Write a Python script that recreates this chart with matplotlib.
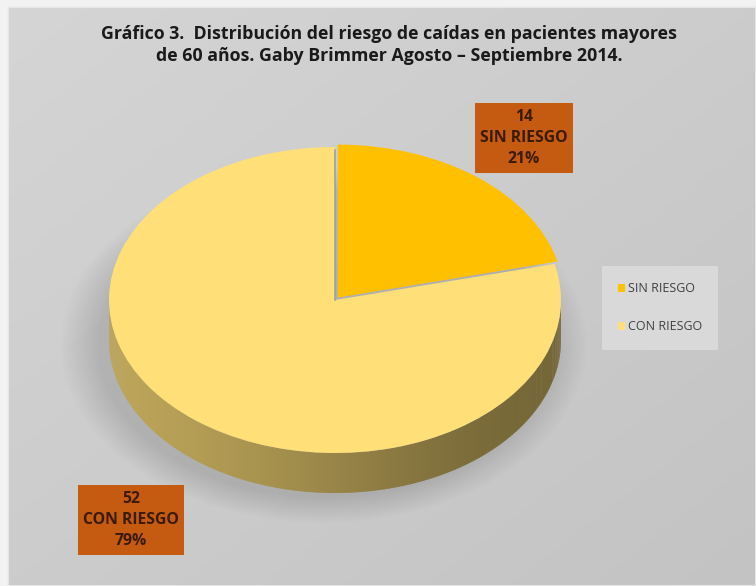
import numpy as np
import matplotlib
matplotlib.use("Agg")
from matplotlib import pyplot as plt
from matplotlib.patches import Polygon, Ellipse, Rectangle
import matplotlib.colors as mcolors

# data
categories = ['SIN RIESGO', 'CON RIESGO']
counts = [14, 52]
percents = [21, 79]
colors = ['#FFC000', '#FFDF78']

title = ('Gráfico 3.  Distribución del riesgo de caídas en pacientes mayores\n'
         'de 60 años. Gaby Brimmer Agosto – Septiembre 2014.')

W, H = 756, 586
fig = plt.figure(figsize=(W / 100, H / 100), dpi=100)
fig.patch.set_facecolor('#f2f2f2')

# background with a soft gradient
bg = fig.add_axes([0, 0, 1, 1])
yy, xx = np.mgrid[0:1:200j, 0:1:200j]
grad = 0.835 - 0.07 * (0.5 * xx + 0.5 * yy)
bg.imshow(np.dstack([grad, grad, grad]), extent=[8, W, H, 7], aspect='auto')
bg.add_patch(Rectangle((8, 7), W - 8, H - 7, fill=False, ec='#ececec', lw=1.2))
bg.set_xlim(0, W)
bg.set_ylim(H, 0)
bg.axis('off')

fig.text(389 / W, 1 - 45 / H, title, ha='center', va='center', fontsize=12.8,
         fontweight='bold', family='Open Sans', color='#1a1a1a', linespacing=1.3)

# pie geometry in pixels
cx, cy, rx, ry, depth = 335, 300, 226, 153, 40
left, top = cx - rx, cy - ry
bottom = cy + ry + depth
ax = fig.add_axes([left / W, 1 - bottom / H, 2 * rx / W, (bottom - top) / H])
dd = depth / ry

# shadow
for k in range(14):
    ax.add_patch(Ellipse((-0.05, -dd - 0.03), 2.0 + 0.025 * k, 2.0 + 0.025 * k,
                         fc='#6e6e6e', ec='none', alpha=0.02, zorder=0,
                         clip_on=False))

# side of the pie
fracs = np.array(counts) / sum(counts)
ts = np.linspace(180, 360, 240)
for t0, t1 in zip(ts[:-1], ts[1:]):
    tm = (t0 + t1) / 2
    ang = (90 - tm) % 360
    idx = np.searchsorted(np.cumsum(fracs) * 360, ang)
    idx = min(idx, len(colors) - 1)
    f = 0.60 + 0.14 * np.cos(np.radians(tm - 190)) - 0.05 * np.exp(-((tm - 300) / 40) ** 2)
    base = np.array(mcolors.to_rgb(colors[idx]))
    c = np.clip(base * f, 0, 1)
    a0, a1 = np.radians(t0), np.radians(t1 + 0.3)
    pts = [(np.cos(a0), np.sin(a0)), (np.cos(a1), np.sin(a1)),
           (np.cos(a1), np.sin(a1) - dd), (np.cos(a0), np.sin(a0) - dd)]
    ax.add_patch(Polygon(pts, closed=True, fc=c, ec='none', zorder=1,
                         clip_on=False))

wedges, _ = ax.pie(counts, colors=colors, startangle=90, counterclock=False,
                   explode=[0.02, 0], radius=1,
                   wedgeprops=dict(edgecolor='none'))
for w in wedges:
    w.set_zorder(3)
    w.set_clip_on(False)
wedges[0].set_zorder(4)

# thin shade along the straight edges of the small slice
t_end = 90 - 360 * fracs[0]
ax.plot([0.0, 0.0], [0.0, 0.98], color='#a0a0a0', lw=1.2, zorder=3.5,
        clip_on=False)

ax.set_aspect('auto')
ax.set_xlim(-1, 1)
ax.set_ylim(-1 - dd, 1)
ax.axis('off')

# data labels
label_pos = [(524, 138), (131, 520)]
for n, name, p, (lx, ly) in zip(counts, categories, percents, label_pos):
    fig.text(lx / W, 1 - ly / H, f'{n}\n{name}\n{p}%', ha='center', va='center',
             fontsize=11.3, fontweight='bold', family='Open Sans', color='#3a1c05',
             linespacing=1.45,
             bbox=dict(boxstyle='square,pad=0.35', fc='#C55A11', ec='none'))

# legend
leg = fig.legend(wedges, categories, loc='center', bbox_to_anchor=(660 / W, 1 - 308 / H),
                 frameon=True, fancybox=False, fontsize=9, labelspacing=2.0,
                 handlelength=0.6, handleheight=0.6, handletextpad=0.2,
                 borderpad=1.3, borderaxespad=0)
leg.get_frame().set_facecolor('#dedede')
leg.get_frame().set_edgecolor('none')
for t in leg.get_texts():
    t.set_color('#404040')
    t.set_family('Open Sans')

fig.savefig('out.png', dpi=100, facecolor=fig.get_facecolor())
